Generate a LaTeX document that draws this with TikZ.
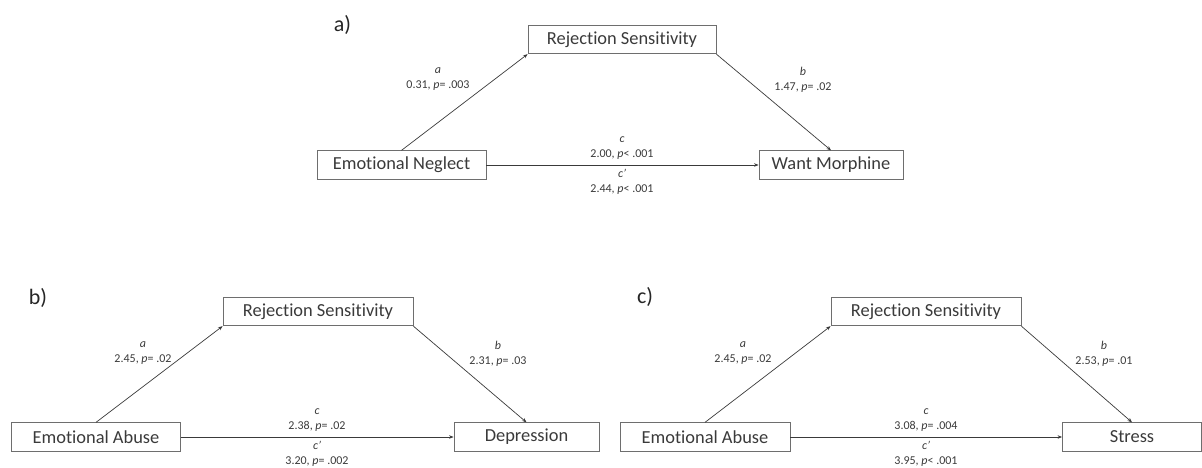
\documentclass[tikz,border=0pt]{standalone}
\usepackage{fontspec}
\setmainfont[RawFeature={-liga}]{Carlito}
\usetikzlibrary{arrows.meta}
\definecolor{inkgray}{HTML}{3A3A3A}
\definecolor{edgegray}{HTML}{6E6E6E}
\begin{document}
\begin{tikzpicture}[x=1pt,y=-1pt,
  varbox/.style={draw=edgegray, line width=0.8pt, text=inkgray, inner sep=0pt,
    minimum height=28.5pt, font=\fontsize{18.4}{22}\selectfont},
  pathlab/.style={text=inkgray, align=center, inner sep=0pt,
    font=\fontsize{12}{15}\selectfont},
  panel/.style={text=black!85, inner sep=0pt, font=\fontsize{22}{26}\selectfont},
  link/.style={draw=inkgray, line width=0.7pt, -{Stealth[length=4.5pt,width=3.5pt]}}]
\useasboundingbox (0,0) rectangle (1202,467);

% ---------- a) Emotional Neglect -> Want Morphine ----------
\node[panel] (pa) at (342.5,25) {a)};
\node[varbox, minimum width=188pt] (rsa) at (622,39.5) {Rejection Sensitivity};
\node[varbox, minimum width=169pt] (ena) at (401.5,165) {Emotional Neglect};
\node[varbox, minimum width=144pt] (wma) at (831,165) {Want Morphine};
\draw[link] (ena.north) -- (rsa.south west);
\draw[link] (rsa.south east) -- (wma.north);
\draw[link] (ena.east) -- (wma.west);
\node[pathlab] (la) at (438,79.5) {\textit{a}\\0.31, \textit{p}= .003};
\node[pathlab] (lb) at (803,79.5) {\textit{b}\\1.47, \textit{p}= .02};
\node[pathlab] (lc) at (622,148) {\textit{c}\\2.00, \textit{p}< .001};
\node[pathlab] (lcp) at (622,181.5) {\textit{c’}\\2.44, \textit{p}< .001};

% ---------- b) Emotional Abuse -> Depression ----------
\node[panel] (pb) at (38,297.5) {b)};
\node[varbox, minimum width=190pt] (rsb) at (318,311.5) {Rejection Sensitivity};
\node[varbox, minimum width=169pt] (eab) at (96,437) {Emotional Abuse};
\node[varbox, minimum width=145pt] (dep) at (526.5,437) {Depression};
\draw[link] (eab.north) -- (rsb.south west);
\draw[link] (rsb.south east) -- (dep.north);
\draw[link] (eab.east) -- (dep.west);
\node[pathlab] (lba) at (143,353.5) {\textit{a}\\2.45, \textit{p}= .02};
\node[pathlab] (lbb) at (498,353.5) {\textit{b}\\2.31, \textit{p}= .03};
\node[pathlab] (lbc) at (317,420) {\textit{c}\\2.38, \textit{p}= .02};
\node[pathlab] (lbcp) at (317,453.5) {\textit{c’}\\3.20, \textit{p}= .002};

% ---------- c) Emotional Abuse -> Stress ----------
\node[panel] (pc) at (645,297) {c)};
\node[varbox, minimum width=190pt] (rsc) at (926,311.5) {Rejection Sensitivity};
\node[varbox, minimum width=170pt] (eac) at (705,437) {Emotional Abuse};
\node[varbox, minimum width=139pt] (str) at (1132,437) {Stress};
\draw[link] (eac.north) -- (rsc.south west);
\draw[link] (rsc.south east) -- (str.north);
\draw[link] (eac.east) -- (str.west);
\node[pathlab] (lca) at (743,353.5) {\textit{a}\\2.45, \textit{p}= .02};
\node[pathlab] (lcb) at (1104,353.5) {\textit{b}\\2.53, \textit{p}= .01};
\node[pathlab] (lcc) at (926,420) {\textit{c}\\3.08, \textit{p}= .004};
\node[pathlab] (lccp) at (926,453.5) {\textit{c’}\\3.95, \textit{p}< .001};
\end{tikzpicture}
\end{document}
